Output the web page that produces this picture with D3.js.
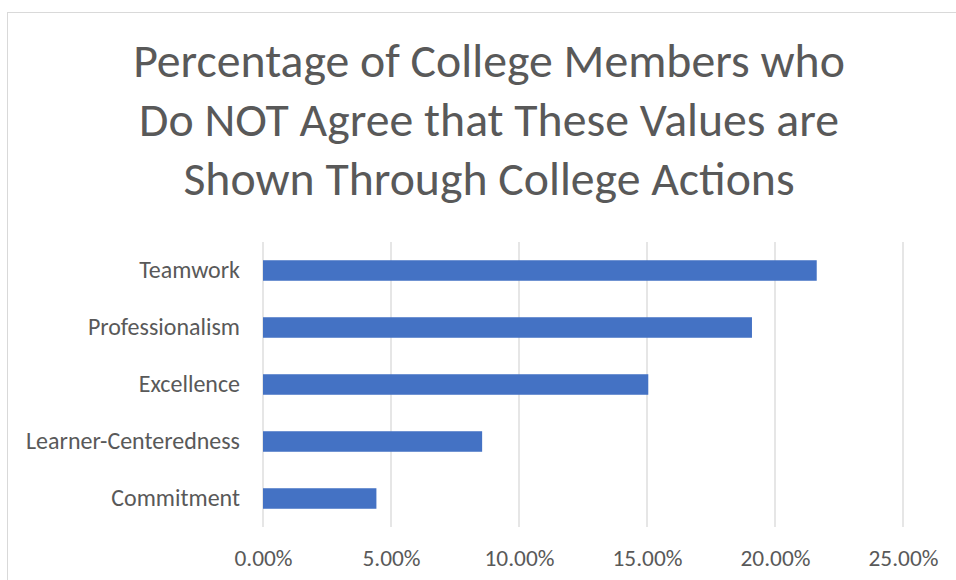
<!DOCTYPE html>
<html>
<head>
<meta charset="utf-8">
<script src="https://cdn.jsdelivr.net/npm/d3@7"></script>
<style>
  body { margin: 0; background: #fff; }
  text { font-family: Calibri, Carlito, "Open Sans", sans-serif; fill: #595959; }
</style>
</head>
<body>
<svg id="chart" width="956" height="580"></svg>
<script>
// data
const categories = ['Teamwork', 'Professionalism', 'Excellence', 'Learner-Centeredness', 'Commitment'];
const values = [0.2163, 0.191, 0.1505, 0.0856, 0.0443];
const xTicks = [0, 0.05, 0.10, 0.15, 0.20, 0.25];
const titleLines = ['Percentage of College Members who', 'Do NOT Agree that These Values are', 'Shown Through College Actions'];

const svg = d3.select('#chart');
const margin = {left: 263, right: 53, top: 242, bottom: 53};
const width = 956, height = 580;

// scale a text's font so that one sample string gets the wanted width
function fitFont(sel, sample, target) {
  const probe = svg.append('text').style('font-size', '40px').text(sample);
  const w = probe.node().getComputedTextLength();
  probe.remove();
  sel.style('font-size', (40 * target / w) + 'px');
}

// chart border
svg.append('rect')
  .attr('x', 7.5).attr('y', 12.5)
  .attr('width', 980).attr('height', 600)
  .attr('fill', 'none').attr('stroke', '#d9d9d9');

const x = d3.scaleLinear().domain([0, 0.25]).range([margin.left, width - margin.right]);
const y = d3.scaleBand().domain(categories).range([margin.top, height - margin.bottom]).paddingInner(0.64).paddingOuter(0.32);

// title
const title = svg.append('text')
  .attr('text-anchor', 'middle');
title.selectAll('tspan')
  .data(titleLines)
  .join('tspan')
  .attr('x', 489)
  .attr('y', (d, i) => 77 + i * 59)
  .text(d => d);
fitFont(title, titleLines[0], 712);

// gridlines
svg.append('g')
  .selectAll('line')
  .data(xTicks)
  .join('line')
  .attr('x1', d => x(d)).attr('x2', d => x(d))
  .attr('y1', margin.top).attr('y2', height - margin.bottom)
  .attr('stroke', '#d9d9d9').attr('stroke-width', 1.3);

// bars
svg.append('g')
  .selectAll('rect')
  .data(values)
  .join('rect')
  .attr('x', x(0))
  .attr('y', (d, i) => y(categories[i]))
  .attr('width', d => x(d) - x(0))
  .attr('height', y.bandwidth())
  .attr('fill', '#4472c4');

// x axis labels
const xAxis = svg.append('g')
  .attr('transform', `translate(0,${height - margin.bottom})`)
  .call(d3.axisBottom(x).tickValues(xTicks).tickFormat(d3.format('.2%')).tickSize(0).tickPadding(22));
xAxis.select('.domain').remove();
xAxis.selectAll('text').attr('fill', '#595959');
fitFont(xAxis.selectAll('text'), '25.00%', 70);

// category labels
const yAxis = svg.append('g')
  .attr('transform', `translate(${margin.left},0)`)
  .call(d3.axisLeft(y).tickSize(0).tickPadding(23));
yAxis.select('.domain').remove();
yAxis.selectAll('text').attr('fill', '#595959');
fitFont(yAxis.selectAll('text'), 'Learner-Centeredness', 214);
</script>
</body>
</html>
